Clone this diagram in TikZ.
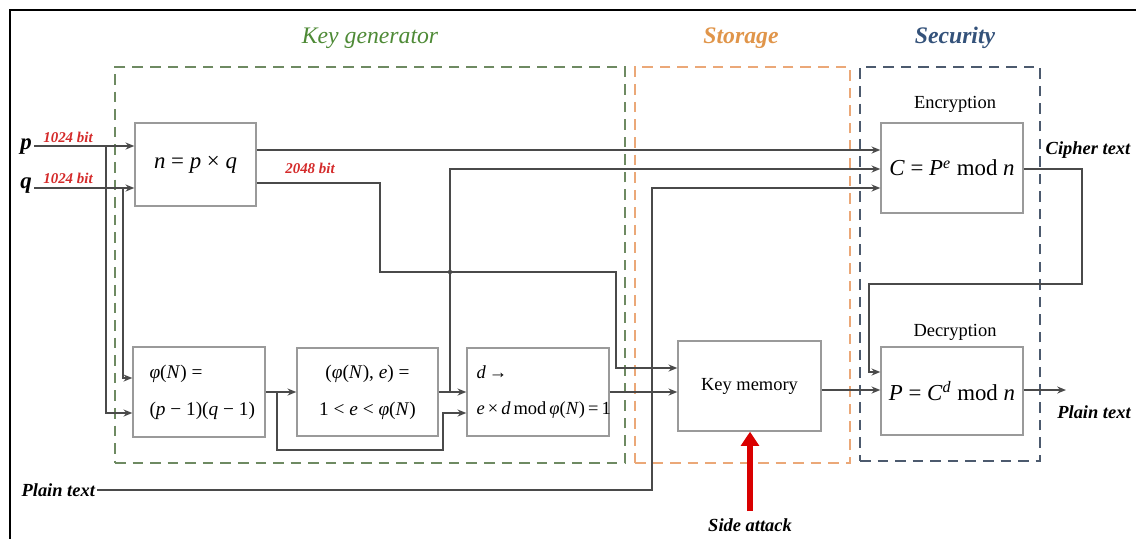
\documentclass[tikz,border=0pt]{standalone}
\usepackage{fontspec}
\setmainfont{Liberation Serif}
\usetikzlibrary{arrows.meta,fit,calc}
\definecolor{wire}{HTML}{4A4A4A}
\definecolor{boxline}{HTML}{9A9A9A}
\definecolor{kgcol}{HTML}{6E8A62}
\definecolor{kgtxt}{HTML}{4E8A36}
\definecolor{stcol}{HTML}{EBA878}
\definecolor{sttxt}{HTML}{E0954A}
\definecolor{secol}{HTML}{4C5A6E}
\definecolor{setxt}{HTML}{34527A}
\definecolor{bitred}{HTML}{D42A2A}
\newcommand{\vi}[1]{\textit{#1}}
\tikzset{
  x={(0.02cm,0)}, y={(0,-0.02cm)},
  blk/.style={draw=boxline, line width=0.8pt, inner sep=0pt, fill=white},
  wirel/.style={draw=wire, line width=0.9pt},
  arr/.style={wirel, -{Stealth[length=5pt,width=4pt]}},
  grp/.style={dashed, dash pattern=on 6pt off 4pt, line width=1.1pt},
  gtitle/.style={font=\fontsize{13.5}{15}\selectfont\itshape},
  bitlbl/.style={text=bitred, font=\fontsize{8.5}{9}\selectfont\bfseries\itshape, inner sep=0pt},
  iolbl/.style={font=\fontsize{10.5}{12}\selectfont\bfseries\itshape, inner sep=1pt},
  eqtxt/.style={font=\fontsize{11}{21}\selectfont},
  bigeq/.style={font=\fontsize{13}{15}\selectfont},
  caption/.style={font=\fontsize{10.5}{12}\selectfont, inner sep=0pt},
}
\begin{document}
\begin{tikzpicture}
\useasboundingbox (0,0) rectangle (1136,539);
% outer frame
\draw[line width=1.5pt] (1136,10) -- (10,10) -- (10,539);

% groups
\node[grp, draw=kgcol, inner sep=0pt, fit={(115,67) (625,463)}] (kg) {};
\node[grp, draw=stcol, inner sep=0pt, fit={(635,67) (850,463)}] (st) {};
\node[grp, draw=secol, inner sep=0pt, fit={(860,67) (1040,461)}] (se) {};
\node[gtitle, text=kgtxt] (kgt) at (370,38) {Key generator};
\node[gtitle, text=sttxt, font=\fontsize{13.5}{15}\selectfont\bfseries\itshape] (stt) at (741,38) {Storage};
\node[gtitle, text=setxt, font=\fontsize{13.5}{15}\selectfont\bfseries\itshape] (set) at (955,38) {Security};

% blocks
\node[blk, fit={(135,123) (256,206)}] (nb) {};
\node[bigeq] (nbt) at (nb.center) {\vi{n} = \vi{p} × \vi{q}};
\node[blk, fit={(133,347) (265,437)}] (phi) {};
\node[eqtxt, align=left, anchor=west] (phit) at ($(phi.west)+(11,0)$) {\vi{φ}(\vi{N}) =\\(\vi{p} − 1)(\vi{q} − 1)};
\node[blk, fit={(297,348) (438,436)}] (pe) {};
\node[eqtxt, align=center] (pet) at (pe.center) {(\vi{φ}(\vi{N}), \vi{e}) =\\1 < \vi{e} < \vi{φ}(\vi{N})};
\node[blk, fit={(467,348) (609,436)}] (db) {};
\node[eqtxt, font=\fontsize{10.5}{21}\selectfont, align=left, anchor=west] (dbt) at ($(db.west)+(4,0)$) {\vi{d}\,→\\\vi{e}\,×\,\vi{d}\,mod\,\vi{φ}(\vi{N})\,=\,1};
\node[blk, fit={(678,341) (821,431)}] (km) {};
\node[caption] (kmt) at (km.center) {Key memory};
\node[blk, fit={(881,123) (1023,213)}] (enc) {};
\node[bigeq] (enct) at (enc.center) {\vi{C} = \vi{P}\textsuperscript{\vi{e}} mod \vi{n}};
\node[blk, fit={(881,347) (1023,435)}] (dec) {};
\node[bigeq] (dect) at (dec.center) {\vi{P} = \vi{C}\textsuperscript{\vi{d}} mod \vi{n}};
\node[caption] (encl) at (955,104) {Encryption};
\node[caption] (decl) at (955,332) {Decryption};

% inputs
\node[font=\fontsize{13}{15}\selectfont\bfseries\itshape, inner sep=1pt, anchor=east] (p) at (34,147) {p};
\node[font=\fontsize{13}{15}\selectfont\bfseries\itshape, inner sep=1pt, anchor=east] (q) at (34,186) {q};
\node[bitlbl] (b1) at (68,137) {1024 bit};
\node[bitlbl] (b2) at (68,178) {1024 bit};
\node[bitlbl] (b3) at (310,168) {2048 bit};

\coordinate (jp) at (106,146);
\coordinate (jq) at (123,188);
\draw[arr] (p.east |- 0,146) -- (nb.west |- 0,146);
\draw[arr] (q.east |- 0,188) -- (nb.west |- 0,188);
\draw[arr] (jp) |- (phi.west |- 0,413);
\draw[arr] (jq) |- (phi.west |- 0,378);

% n outputs
\draw[arr] (nb.east |- 0,150) -- (enc.west |- 0,150);
\coordinate (n1) at (380,183);
\coordinate (n2) at (616,272);
\draw[arr] (nb.east |- 0,183) -- (n1) |- (n2) |- (km.west |- 0,368);

% phi outputs
\coordinate (f1) at (277,392);
\coordinate (f2) at (443,450);
\draw[arr] (phi.east |- 0,392) -- (pe.west |- 0,392);
\draw[arr] (f1) |- (f2) |- (db.west |- 0,413);

% e outputs
\coordinate (e1) at (450,392);
\coordinate (e2) at (450,169);
\draw[arr] (pe.east |- 0,392) -- (db.west |- 0,392);
\draw[arr] (e1) -- (e2) -- (enc.west |- 0,169);
\fill[wire] (450,272) circle (2.2);

% d output
\draw[arr] (db.east |- 0,392) -- (km.west |- 0,392);

% plain text in
\node[iolbl, anchor=east] (pin) at (97,490) {Plain text};
\coordinate (pt1) at (652,490);
\draw[arr] (pin.east) -- (pt1) |- (enc.west |- 0,188);

% cipher text
\node[iolbl] (ct) at (1088,150) {Cipher text};
\coordinate (c1) at (1082,169);
\coordinate (c2) at (869,284);
\draw[arr] (enc.east |- 0,169) -- (c1) |- (c2) |- (dec.west |- 0,372);

% key memory to decryption
\draw[arr] (km.east |- 0,390) -- (dec.west |- 0,390);

% output plain text
\coordinate (pout) at (1066,390);
\draw[arr] (dec.east |- 0,390) -- (pout);
\node[iolbl] (pol) at (1094,412) {Plain text};

% side attack
\node[iolbl] (sa) at (750,525) {Side attack};
\coordinate (sa0) at (750,511);
\draw[draw=red!85!black, line width=3.5pt, -{Triangle[length=8pt,width=10pt]}] (sa0) -- (km.south -| sa0);
\end{tikzpicture}
\end{document}
